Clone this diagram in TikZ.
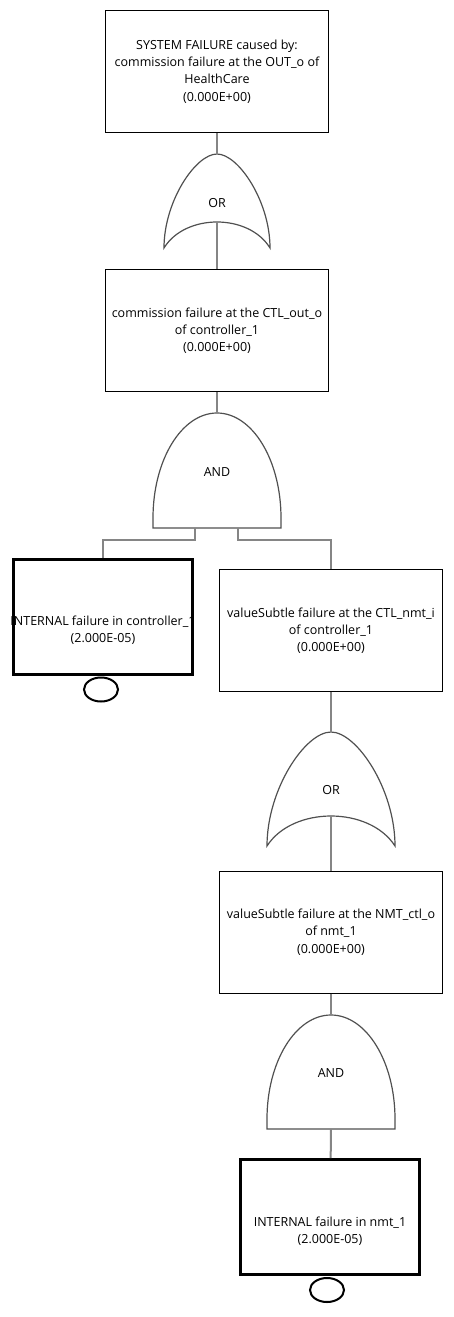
\documentclass[tikz,border=0pt]{standalone}
\usepackage{fontspec}
\setmainfont{Open Sans}
\usetikzlibrary{positioning}
\usetikzlibrary{shapes}
\definecolor{wiregrey}{HTML}{858585}
\definecolor{gategrey}{HTML}{505050}
% OR gate: left, right, top, corner, apex
\newcommand{\orgate}[5]{%
  \draw[gate] ({(#1+#2)/2},#3) .. controls ({(#1+#2)/2-0.2*(#2-#1)},#3) and (#1,{#3+0.5*(#4-#3)}) .. (#1,#4)
    .. controls ({(#1+#2)/2-0.3*(#2-#1)},{#5-(#4-#5)/3}) and ({(#1+#2)/2+0.3*(#2-#1)},{#5-(#4-#5)/3}) .. (#2,#4)
    .. controls (#2,{#3+0.5*(#4-#3)}) and ({(#1+#2)/2+0.2*(#2-#1)},#3) .. cycle;}
% AND gate: left, right, top, bottom
\newcommand{\andgate}[4]{%
  \draw[gate] (#1,#4) -- (#1,{#4-10}) .. controls (#1,{#4-10-0.552*(#4-10-#3)}) and ({(#1+#2)/2-0.276*(#2-#1)},#3) .. ({(#1+#2)/2},#3)
    .. controls ({(#1+#2)/2+0.276*(#2-#1)},#3) and (#2,{#4-10-0.552*(#4-10-#3)}) .. (#2,{#4-10}) -- (#2,#4) -- cycle;}
\tikzset{
  evtext/.style={align=center, font=\fontsize{12.5}{17.2}\selectfont},
  event/.style={draw, line width=1pt, minimum width=223pt, minimum height=122pt, evtext},
  basic/.style={draw, line width=3pt, minimum width=179pt, minimum height=115pt},
  wire/.style={draw=wiregrey, line width=2pt},
  gate/.style={draw=gategrey, line width=1.2pt},
  circ/.style={draw, ellipse, line width=2pt, minimum width=34pt, minimum height=24pt, inner sep=0pt},
}
\begin{document}
\begin{tikzpicture}[x=1pt,y=-1pt]
  \useasboundingbox (0,0) rectangle (453,1317);
  \node[event] (T) at (217,71.5) {SYSTEM FAILURE caused by:\\commission failure at the OUT\_o of\\HealthCare\\(0.000E+00)};
  \node[event] (M) at (217,330.5) {commission failure at the CTL\_out\_o\\of controller\_1\\(0.000E+00)};
  \node[basic, label={[evtext, yshift=-14pt]center:{INTERNAL failure in controller\_1\\(2.000E-05)}}] (L1) at (103,616.5) {};
  \node[circ, below=1pt of L1, xshift=-2pt] (C1) {};
  \node[event] (R1) at (331,630.5) {valueSubtle failure at the CTL\_nmt\_i\\of controller\_1\\(0.000E+00)};
  \node[event] (R2) at (331,932) {valueSubtle failure at the NMT\_ctl\_o\\of nmt\_1\\(0.000E+00)};
  \node[basic, label={[evtext, yshift=-14pt]center:{INTERNAL failure in nmt\_1\\(2.000E-05)}}] (L2) at (330,1217) {};
  \node[circ, below=1pt of L2, xshift=-3pt] (C2) {};

  % gates
  \orgate{164}{270}{154}{248}{222}
  \andgate{153}{281}{413}{528}
  \orgate{267}{395}{732}{846}{816}
  \andgate{267}{395}{1015}{1129}
  \node[evtext] (G1) at (217,203) {OR};
  \node[evtext] (G2) at (217,472) {AND};
  \node[evtext] (G3) at (331,790) {OR};
  \node[evtext] (G4) at (331,1073) {AND};
  \coordinate (G1t) at (217,154);
  \coordinate (G1b) at (217,222);
  \coordinate (G2t) at (217,413);
  \coordinate (G2l) at (195,528);
  \coordinate (G2r) at (238,528);
  \coordinate (G3t) at (331,732);
  \coordinate (G3b) at (331,816);
  \coordinate (G4t) at (331,1015);
  \coordinate (G4b) at (331,1129);

  \draw[wire] (T) -- (G1t);
  \draw[wire] (G1b) -- (M);
  \draw[wire] (M) -- (G2t);
  \draw[wire] (G2l) -- ++(0,12) -| (L1);
  \draw[wire] (G2r) -- ++(0,12) -| (R1);
  \draw[wire] (R1) -- (G3t);
  \draw[wire] (G3b) -- (R2);
  \draw[wire] (R2) -- (G4t);
  \draw[wire] (G4b) -- (L2);
\end{tikzpicture}
\end{document}
